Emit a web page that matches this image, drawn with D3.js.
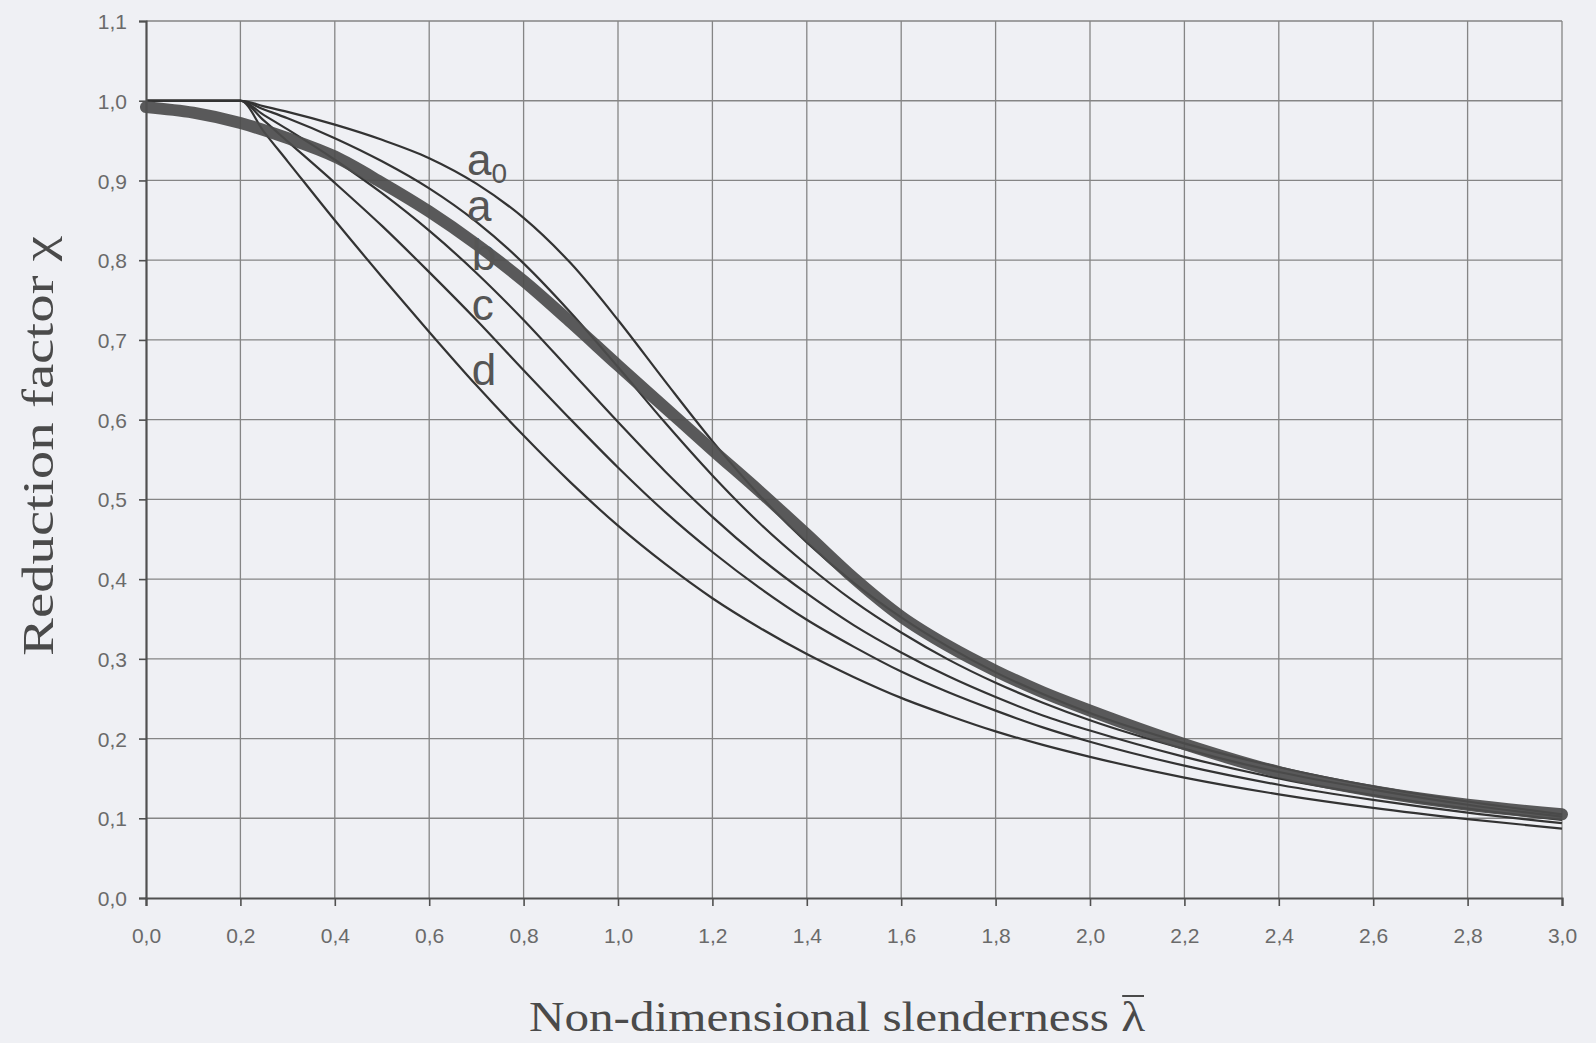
<!DOCTYPE html>
<html lang="en">
<head>
<meta charset="UTF-8">
<title>Buckling curves</title>
<script src="https://cdn.jsdelivr.net/npm/d3@7"></script>
<style>
  body { margin: 0; background: #eff0f4; }
  svg { display: block; }
  .tick text { font-family: "Liberation Sans", Arial, sans-serif; font-size: 21px; fill: #6a6a6a; }
  .title { font-family: "Liberation Serif", "Times New Roman", serif; fill: #4a4a4a; }
  .lbl { font-family: "Liberation Sans", Arial, sans-serif; fill: #555; }
</style>
</head>
<body>
<svg width="1596" height="1043"></svg>
<script>
// slenderness values where the thin curves were read
const lambdaThin = [0, 0.1, 0.2, 0.25, 0.3, 0.4, 0.5, 0.6, 0.7, 0.8, 0.9, 1.0, 1.1, 1.2, 1.3, 1.4,
                    1.5, 1.6, 1.7, 1.8, 1.9, 2.0, 2.2, 2.4, 2.6, 2.8, 3.0];
const chiA0 = [1, 1, 1, 0.993, 0.986, 0.970, 0.951, 0.928, 0.896, 0.853, 0.796, 0.725, 0.648, 0.573,
               0.505, 0.446, 0.395, 0.352, 0.315, 0.283, 0.256, 0.232, 0.194, 0.164, 0.140, 0.121, 0.105];
const chiA  = [1, 1, 1, 0.989, 0.978, 0.953, 0.924, 0.890, 0.848, 0.796, 0.734, 0.666, 0.596, 0.530,
               0.470, 0.418, 0.372, 0.333, 0.299, 0.270, 0.245, 0.223, 0.187, 0.158, 0.136, 0.117, 0.102];
const chiB  = [1, 1, 1, 0.982, 0.964, 0.926, 0.884, 0.837, 0.784, 0.725, 0.661, 0.597, 0.535, 0.478,
               0.427, 0.382, 0.342, 0.308, 0.278, 0.252, 0.229, 0.210, 0.177, 0.150, 0.129, 0.112, 0.098];
const chiC  = [1, 1, 1, 0.975, 0.949, 0.897, 0.843, 0.785, 0.725, 0.662, 0.600, 0.540, 0.484, 0.434,
               0.389, 0.349, 0.315, 0.284, 0.258, 0.235, 0.214, 0.196, 0.166, 0.142, 0.123, 0.107, 0.094];
const chiD  = [1, 1, 1, 0.961, 0.924, 0.850, 0.779, 0.710, 0.643, 0.580, 0.521, 0.467, 0.419, 0.376,
               0.339, 0.306, 0.277, 0.251, 0.229, 0.209, 0.192, 0.177, 0.151, 0.130, 0.113, 0.099, 0.087];

// the thick hand-drawn curve
const lambdaThick = [0, 0.1, 0.2, 0.3, 0.4, 0.5, 0.6, 0.7, 0.8, 0.9, 1.0, 1.1, 1.2, 1.3, 1.4, 1.5,
                     1.6, 1.7, 1.8, 1.9, 2.0, 2.2, 2.4, 2.6, 2.8, 3.0];
const chiThick = [0.992, 0.985, 0.972, 0.953, 0.930, 0.897, 0.861, 0.820, 0.774, 0.722, 0.668, 0.615,
                  0.562, 0.510, 0.456, 0.401, 0.353, 0.316, 0.285, 0.258, 0.235, 0.193, 0.158, 0.134,
                  0.117, 0.105];

const curveNames = ["a", "a", "b", "c", "d"];
const xTicks = d3.range(0, 3.01, 0.2);
const yTicks = d3.range(0, 1.101, 0.1);

const svg = d3.select("svg"),
      margin = {top: 21, right: 34, bottom: 145, left: 146},
      width = +svg.attr("width") - margin.left - margin.right,
      height = +svg.attr("height") - margin.top - margin.bottom;

const g = svg.append("g").attr("transform", `translate(${margin.left},${margin.top})`);

const x = d3.scaleLinear().domain([0, 3]).range([0, width]);
const y = d3.scaleLinear().domain([0, 1.1]).range([height, 0]);
const fmt = d => d.toFixed(1).replace(".", ",");

// grid
g.append("g").selectAll("line").data(xTicks.slice(1)).join("line")
    .attr("x1", d => x(d)).attr("x2", d => x(d))
    .attr("y1", 0).attr("y2", height)
    .attr("stroke", "#858585").attr("stroke-width", 1.3);
g.append("g").selectAll("line").data(yTicks.slice(1)).join("line")
    .attr("x1", 0).attr("x2", width)
    .attr("y1", d => y(d)).attr("y2", d => y(d))
    .attr("stroke", "#858585").attr("stroke-width", 1.3);

const line = d3.line().x(d => x(d[0])).y(d => y(d[1])).curve(d3.curveMonotoneX);

// thin design curves
[chiA0, chiA, chiB, chiC, chiD].forEach(vals => {
    g.append("path")
        .datum(lambdaThin.map((l, i) => [l, vals[i]]))
        .attr("fill", "none")
        .attr("stroke", "#333")
        .attr("stroke-width", 2.2)
        .attr("d", line);
});

// thick curve on top
g.append("path")
    .datum(lambdaThick.map((l, i) => [l, chiThick[i]]))
    .attr("fill", "none")
    .attr("stroke", "#4c4c4c")
    .attr("stroke-opacity", 0.92)
    .attr("stroke-width", 12)
    .attr("stroke-linecap", "round")
    .attr("d", line);

// curve labels
const labelLambda = [0.68, 0.68, 0.69, 0.69, 0.69];
const labelChi = [0.907, 0.849, 0.788, 0.725, 0.643];
curveNames.forEach((n, i) => {
    const t = g.append("text").attr("class", "lbl")
        .attr("x", x(labelLambda[i])).attr("y", y(labelChi[i]))
        .attr("font-size", 44).text(n);
    if (i === 0) t.append("tspan").attr("font-size", 28).attr("dy", 8).text("0");
});

// axes
const xAxis = g.append("g").attr("transform", `translate(0,${height})`)
    .call(d3.axisBottom(x).tickValues(xTicks).tickFormat(fmt).tickSize(8).tickPadding(22));
const yAxis = g.append("g")
    .call(d3.axisLeft(y).tickValues(yTicks).tickFormat(fmt).tickSize(7).tickPadding(12));
[xAxis, yAxis].forEach(a => {
    a.select(".domain").attr("stroke", "#505050").attr("stroke-width", 2.2);
    a.selectAll(".tick line").attr("stroke", "#505050").attr("stroke-width", 1.6);
});
yAxis.selectAll(".tick text").attr("dy", "0.36em");

// titles
svg.append("text").attr("class", "title")
    .attr("transform", "translate(53,446) rotate(-90)")
    .attr("text-anchor", "middle")
    .attr("font-size", 44)
    .attr("textLength", 420).attr("lengthAdjust", "spacingAndGlyphs")
    .text("Reduction factor \u03c7");

const xt = svg.append("text").attr("class", "title")
    .attr("x", 837).attr("y", 1031)
    .attr("text-anchor", "middle")
    .attr("font-size", 42)
    .attr("textLength", 616).attr("lengthAdjust", "spacingAndGlyphs")
    .text("Non-dimensional slenderness \u03bb");
const s = xt.text().length - 1;
const box = xt.node().getExtentOfChar(s);
svg.append("line")
    .attr("x1", box.x + 1).attr("x2", box.x + box.width - 1)
    .attr("y1", box.y + 2).attr("y2", box.y + 2)
    .attr("stroke", "#4a4a4a").attr("stroke-width", 2);
</script>
</body>
</html>
